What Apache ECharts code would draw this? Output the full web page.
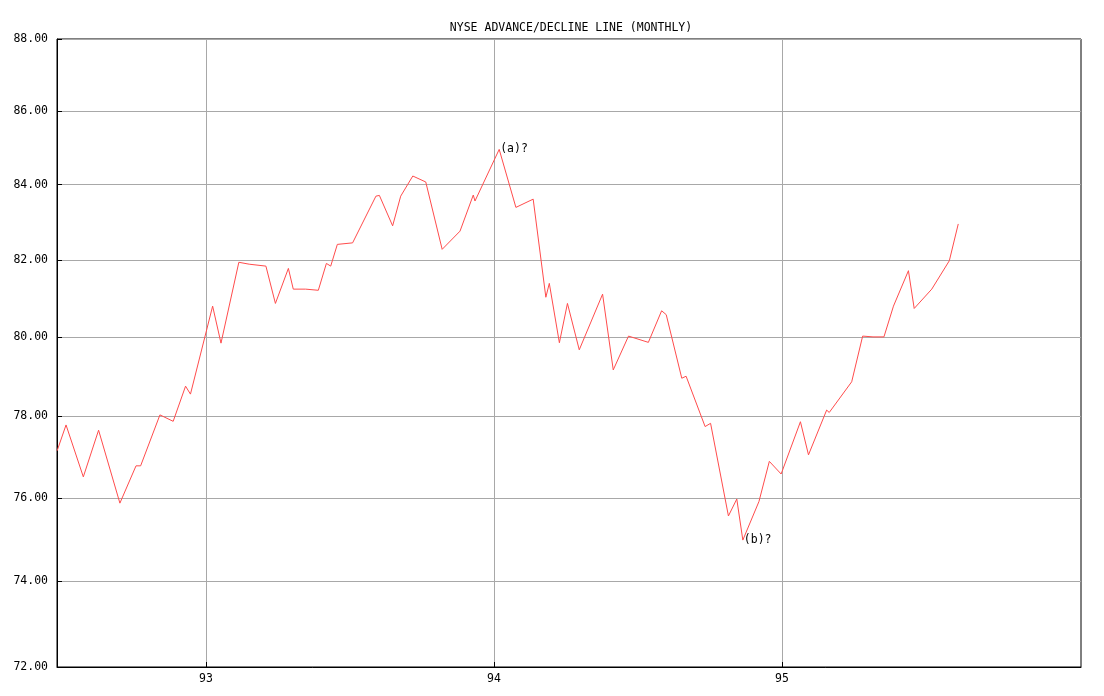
<!DOCTYPE html>
<html>
<head>
<meta charset="utf-8">
<script src="https://cdn.jsdelivr.net/npm/echarts@6/dist/echarts.min.js"></script>
<style>
html,body{margin:0;padding:0;background:#fff;}
#chart{width:1104px;height:696px;}
</style>
</head>
<body>
<div id="chart"></div>
<script>
var titleText = 'NYSE ADVANCE/DECLINE LINE (MONTHLY)';
var years = [92.483,92.514,92.574,92.627,92.701,92.757,92.773,92.840,92.886,92.929,92.946,
93.023,93.052,93.114,93.150,93.208,93.241,93.286,93.303,93.346,93.390,93.418,93.433,93.456,93.509,
93.590,93.602,93.648,93.676,93.718,93.763,93.820,93.882,93.928,93.934,
94.018,94.076,94.136,94.180,94.192,94.227,94.255,94.296,94.377,94.414,94.467,94.536,94.582,94.598,
94.652,94.667,94.733,94.752,94.814,94.843,94.864,94.920,94.956,94.997,
95.064,95.092,95.155,95.164,95.242,95.280,95.316,95.354,95.387,95.439,95.459,95.520,95.581,95.612];
var values = [77.15,77.79,76.51,77.66,75.87,76.78,76.78,78.04,77.88,78.76,78.56,
80.80,79.85,81.94,81.89,81.84,80.87,81.78,81.24,81.24,81.21,81.91,81.84,82.41,82.45,
83.69,83.71,82.90,83.69,84.23,84.07,82.28,82.76,83.72,83.56,
84.95,83.39,83.61,81.03,81.39,79.86,80.87,79.68,81.11,79.17,80.03,79.87,80.68,80.58,
78.96,79.01,77.75,77.83,75.56,75.97,74.98,75.91,76.89,76.58,
77.87,77.05,78.16,78.10,78.87,80.03,80.01,80.01,80.80,81.72,80.74,81.24,81.98,82.95];
var xTicks = [93,94,95];
var yTicks = [72,74,76,78,80,82,84,86,88];
var annotIndex = [35,55];
var annotText = ['(a)?','(b)?'];

var FONT = 'DejaVu Sans Mono';
var seriesData = years.map(function(y,i){return [y, values[i]];});
var marks = annotIndex.map(function(idx,k){
  return {coord:[years[idx], values[idx]], value: annotText[k]};
});

var chart = echarts.init(document.getElementById('chart'), null, {renderer:'canvas'});
chart.setOption({
  animation:false,
  backgroundColor:'#ffffff',
  title:{
    text:titleText, left:566, textAlign:'center', top:17,
    textStyle:{fontFamily:FONT, fontSize:11.5, fontWeight:'normal', color:'#000'}
  },
  grid:{left:57, right:23, top:39, bottom:29, show:true, borderColor:'#000', borderWidth:1, backgroundColor:'transparent'},
  xAxis:{
    type:'value', min:92.4826, max:96.0382,
    axisLine:{show:true, lineStyle:{color:'#000', width:1}},
    axisTick:{show:true, inside:true, length:5, lineStyle:{color:'#000'}, customValues:xTicks},
    axisLabel:{show:true, customValues:xTicks, margin:6, color:'#000', fontFamily:FONT, fontSize:11.5,
      formatter:function(v){return String(Math.round(v));}},
    splitLine:{show:true, lineStyle:{color:'#a8a8a8', width:1}}
  },
  yAxis:{
    type:'log', min:72, max:88,
    axisLine:{show:true, lineStyle:{color:'#000', width:1}},
    axisTick:{show:true, inside:true, length:5, lineStyle:{color:'#000'}, customValues:yTicks},
    axisLabel:{show:true, customValues:yTicks, margin:9, color:'#000', fontFamily:FONT, fontSize:11.5,
      formatter:function(v){return Number(v).toFixed(2);}},
    splitLine:{show:true, lineStyle:{color:'#a8a8a8', width:1}}
  },
  series:[{
    type:'line', data:seriesData, showSymbol:false, symbol:'none',
    lineStyle:{color:'#ff4c4c', width:1},
    itemStyle:{color:'#ff4c4c'},
    markPoint:{
      symbol:'circle', symbolSize:0,
      label:{show:true, position:'right', distance:1, formatter:'{c}', color:'#000', fontFamily:FONT, fontSize:11.5},
      data:marks
    }
  }]
});
</script>
</body>
</html>
